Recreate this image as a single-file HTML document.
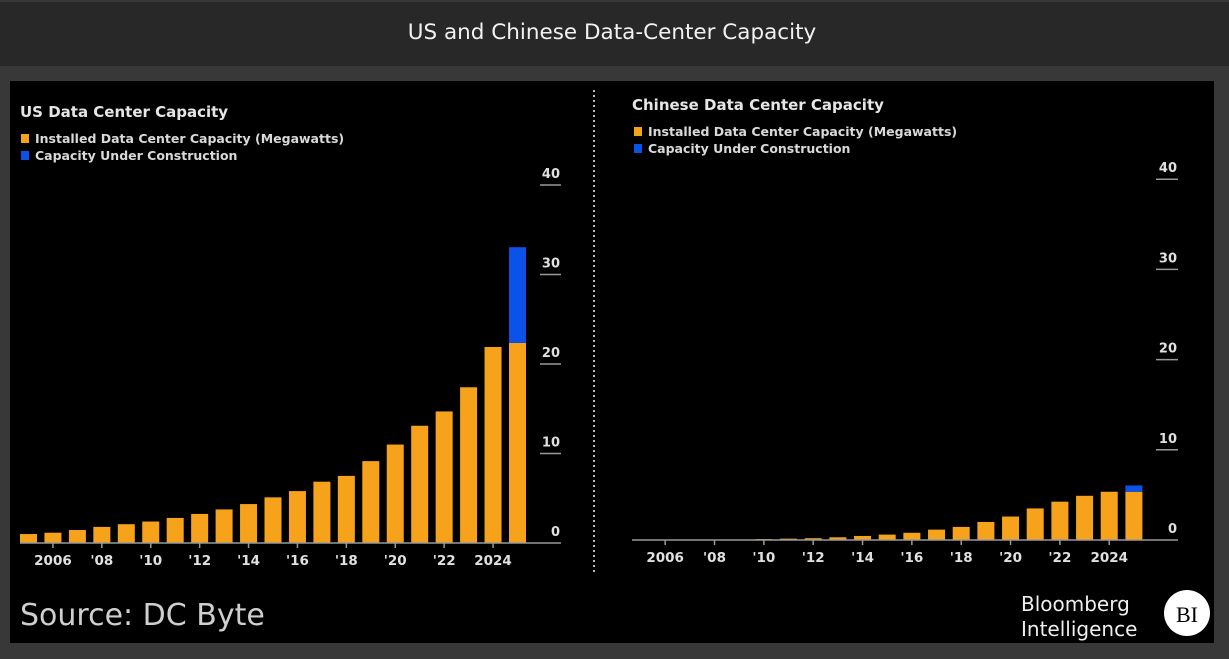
<!DOCTYPE html>
<html><head><meta charset="utf-8"><style>
html,body{margin:0;padding:0;background:#383838;}
body{width:1229px;height:659px;overflow:hidden;position:relative;font-family:"DejaVu Sans","Liberation Sans",sans-serif;}
</style></head><body>
<svg id="svg" width="1229" height="659" xmlns="http://www.w3.org/2000/svg" style="position:absolute;left:0;top:0" font-family="DejaVu Sans, Liberation Sans, sans-serif">
<rect x="0" y="0" width="1229" height="659" fill="#383838"/>
<rect x="0" y="2" width="1229" height="64" fill="#282828"/>
<text x="612" y="39" text-anchor="middle" fill="#f2f2f2" font-size="21.5">US and Chinese Data‑Center Capacity</text>
<rect x="10" y="81" width="1204" height="562" fill="#000"/>
<line x1="594" y1="90" x2="594" y2="572" stroke="#bbb" stroke-width="2" stroke-dasharray="2,3"/>
<text x="20" y="117" fill="#e6e6e6" font-size="15" font-weight="bold">US Data Center Capacity</text>
<rect x="21" y="134" width="8" height="9" fill="#f7a21b"/>
<text x="35" y="143" fill="#d9d9d9" font-size="12.5" font-weight="bold">Installed Data Center Capacity (Megawatts)</text>
<rect x="21" y="151" width="8" height="9" fill="#0b52e8"/>
<text x="35" y="160" fill="#d9d9d9" font-size="12.5" font-weight="bold">Capacity Under Construction</text>
<text x="632" y="110" fill="#e6e6e6" font-size="15" font-weight="bold">Chinese Data Center Capacity</text>
<rect x="634" y="127" width="8" height="9" fill="#f7a21b"/>
<text x="648" y="136" fill="#d9d9d9" font-size="12.5" font-weight="bold">Installed Data Center Capacity (Megawatts)</text>
<rect x="634" y="144" width="8" height="9" fill="#0b52e8"/>
<text x="648" y="153" fill="#d9d9d9" font-size="12.5" font-weight="bold">Capacity Under Construction</text>
<text x="20" y="625" fill="#cfcfcf" font-size="30">Source: DC Byte</text>
<text x="1021" y="611" fill="#eee" font-size="20">Bloomberg</text>
<text x="1021" y="636" fill="#eee" font-size="20">Intelligence</text>
<circle cx="1187" cy="613" r="23" fill="#fff"/>
<text x="1187" y="622" text-anchor="middle" fill="#000" font-size="22" font-family="Liberation Serif,serif">BI</text>
<g id="g"></g>
</svg>
<script>
const years=[2005,2006,2007,2008,2009,2010,2011,2012,2013,2014,2015,2016,2017,2018,2019,2020,2021,2022,2023,2024,2025];
const usInstalled=[1.0,1.15,1.45,1.8,2.1,2.4,2.8,3.25,3.75,4.35,5.1,5.8,6.85,7.5,9.15,11.0,13.1,14.7,17.4,21.9,22.35];
const usConstruction=[0,0,0,0,0,0,0,0,0,0,0,0,0,0,0,0,0,0,0,0,10.7];
const cnInstalled=[0.05,0.05,0.05,0.05,0.05,0.1,0.15,0.2,0.3,0.45,0.6,0.8,1.15,1.45,2.0,2.6,3.5,4.25,4.9,5.35,5.35];
const cnConstruction=[0,0,0,0,0,0,0,0,0,0,0,0,0,0,0,0,0,0,0,0,0.7];
const yTicks=[0,10,20,30,40];
const xTickYears=[2006,2008,2010,2012,2014,2016,2018,2020,2022,2024];
const xTickLabels=["2006","'08","'10","'12","'14","'16","'18","'20","'22","2024"];
const NS="http://www.w3.org/2000/svg";
const g=document.getElementById('g');
function mk(t,a){const e=document.createElementNS(NS,t);for(const k in a)e.setAttribute(k,a[k]);g.appendChild(e);return e;}
function chart(p){
  const x=y=>p.x0+(y-2005)*p.pitch;
  const yv=v=>p.base-v*p.unit;
  yTicks.forEach(t=>{
    if(t>0){const l=mk('line',{x1:p.tx1,x2:p.tx2,y1:yv(t),y2:yv(t),stroke:'#999','stroke-width':1.5});
    
    }
    const tx=mk('text',{x:p.tx2-1,y:yv(t)-7,'text-anchor':'end',fill:'#e0e0e0','font-size':13,'font-weight':'bold'});
    tx.textContent=t;
    
    
  });
  years.forEach((yr,i)=>{
    const a=p.inst[i],b=p.cons[i];
    const r=mk('rect',{x:x(yr)-8.5,y:yv(a),width:17,height:a*p.unit,fill:'#f7a21b'});
    
    
    if(b>0){const r2=mk('rect',{x:x(yr)-8.5,y:yv(a+b),width:17,height:b*p.unit,fill:'#0b52e8'});
      
      }
  });
  const bl=mk('line',{x1:p.bx,x2:p.tx2,y1:p.base,y2:p.base,stroke:'#999','stroke-width':1.5});
  
  
  xTickYears.forEach((yr,i)=>{
    const tk=mk('line',{x1:x(yr),x2:x(yr),y1:p.base,y2:p.base+5,stroke:'#999','stroke-width':1.5});
    
    
    const tx=mk('text',{x:x(yr),y:p.base+22,'text-anchor':'middle',fill:'#e0e0e0','font-size':13.5,'font-weight':'bold'});
    tx.textContent=xTickLabels[i];
    
    
  });
}
chart({id:'us',x0:28.5,pitch:24.45,base:543,unit:8.95,tx1:540,tx2:561,bx:20,inst:usInstalled,cons:usConstruction});
chart({id:'cn',x0:640.5,pitch:24.67,base:540,unit:9.02,tx1:1156,tx2:1178,bx:632,inst:cnInstalled,cons:cnConstruction});
</script>
</body></html>
